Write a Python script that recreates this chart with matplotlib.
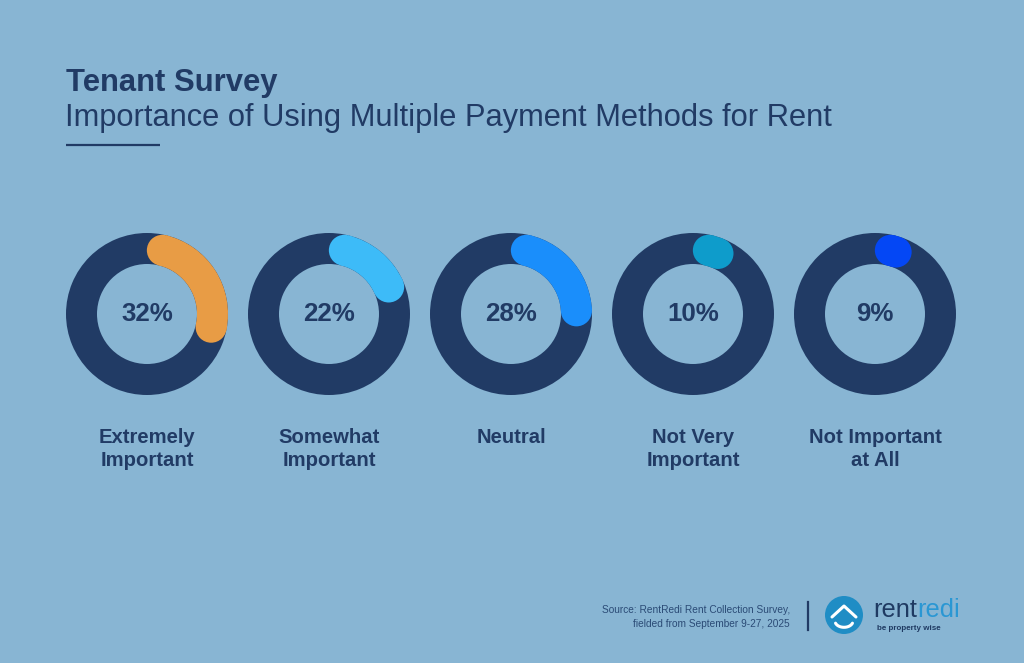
import matplotlib
matplotlib.use("Agg")
import matplotlib.pyplot as plt
from matplotlib.patches import Wedge, Circle
import numpy as np

# ---- data ----
categories = ["Extremely\nImportant", "Somewhat\nImportant", "Neutral",
              "Not Very\nImportant", "Not Important\nat All"]
values = [32, 22, 28, 10, 9]
value_labels = ["32%", "22%", "28%", "10%", "9%"]
arc_colors = ["#E89C45", "#3DBBF8", "#1A8EFB", "#0E9CCB", "#0447F5"]
title = "Tenant Survey"
subtitle = "Importance of Using Multiple Payment Methods for Rent"
source_lines = ["Source: RentRedi Rent Collection Survey,",
                "fielded from September 9-27, 2025"]

BG = "#88B5D3"
NAVY = "#213B65"
FONT = ["Liberation Sans", "DejaVu Sans"]

W, H = 1024, 663
fig = plt.figure(figsize=(W / 100, H / 100), dpi=100, facecolor=BG)
ax = fig.add_axes([0, 0, 1, 1])
ax.set_xlim(0, W)
ax.set_ylim(H, 0)
ax.set_aspect("equal")
ax.axis("off")
ax.set_facecolor(BG)

# title block
ax.text(66, 91, title, fontsize=22.3, fontweight="bold", color=NAVY,
        family=FONT, va="baseline", ha="left")
ax.text(65, 126, subtitle, fontsize=22.2, color=NAVY,
        family=FONT, va="baseline", ha="left")
ax.plot([66, 160], [145, 145], color=NAVY, lw=1.6, solid_capstyle="butt")

# donuts
cx0, dx, cy = 147, 182, 314
R_out, ring_w = 81, 31
r_mid = R_out - ring_w / 2
cap_deg = np.degrees((ring_w / 2) / r_mid)

for i, (v, lab, cat, col) in enumerate(zip(values, value_labels, categories, arc_colors)):
    cx = cx0 + i * dx
    ax.add_patch(Wedge((cx, cy), R_out, 0, 360, width=ring_w,
                       facecolor=NAVY, edgecolor="none"))
    total = v / 100 * 360
    a1 = cap_deg
    a2 = max(total - cap_deg, cap_deg + 0.5)
    t1, t2 = a1 - 90, a2 - 90
    ax.add_patch(Wedge((cx, cy), R_out, t1, t2, width=ring_w,
                       facecolor=col, edgecolor="none"))
    for a in (t1, t2):
        px = cx + r_mid * np.cos(np.radians(a))
        py = cy + r_mid * np.sin(np.radians(a))
        ax.add_patch(Circle((px, py), ring_w / 2, facecolor=col, edgecolor="none"))
    ax.text(cx, cy, lab, fontsize=18.6, fontweight="bold", color=NAVY,
            family=FONT, ha="center", va="center")
    ax.text(cx, 428, cat, fontsize=14.6, fontweight="bold", color=NAVY,
            family=FONT, ha="center", va="top", linespacing=1.25)

# footer
ax.text(790, 613, source_lines[0], fontsize=7.3, color="#2B4B76", family=FONT,
        ha="right", va="baseline")
ax.text(790, 627, source_lines[1], fontsize=7.3, color="#2B4B76", family=FONT,
        ha="right", va="baseline")
ax.plot([808, 808], [602, 630], color=NAVY, lw=1.6)

# logo
ax.add_patch(Circle((844, 615), 19, facecolor="#1F8DC5", edgecolor="none"))
ax.plot([832, 844, 856], [617, 606, 617], color="white", lw=2.2,
        solid_capstyle="round", solid_joinstyle="round")
th = np.linspace(np.radians(200), np.radians(340), 30)
ax.plot(844 + 9 * np.cos(th), 617 - 9 * np.sin(th) * 0.7 + 4,
        color="white", lw=2.2, solid_capstyle="round")
t_rent = ax.text(873, 617, "rent", fontsize=18.3, color="#1F3A62", family=FONT,
                 ha="left", va="baseline")
fig.canvas.draw()
bb = t_rent.get_window_extent(renderer=fig.canvas.get_renderer())
x_end = ax.transData.inverted().transform((bb.x1, bb.y0))[0]
ax.text(x_end, 617, "redi", fontsize=18.3, color="#2A97D3", family=FONT,
        ha="left", va="baseline")
ax.text(877, 630, "be property wise", fontsize=5.8, fontweight="bold",
        color="#1F3A62", family=FONT, ha="left", va="baseline")

fig.savefig("out.png", dpi=100, facecolor=BG)
